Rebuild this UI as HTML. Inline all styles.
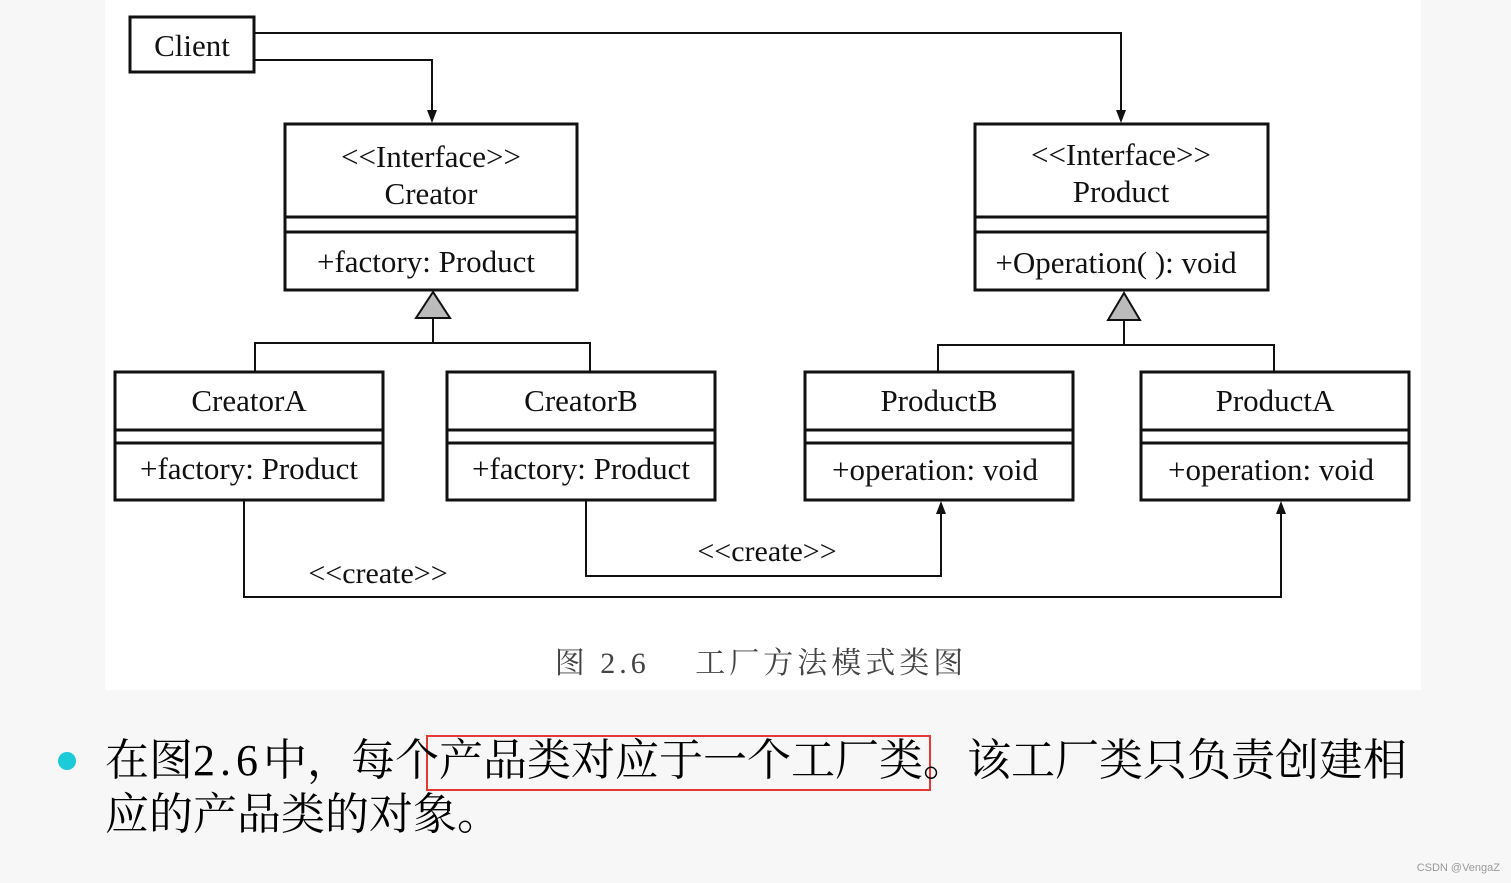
<!DOCTYPE html>
<html><head><meta charset="utf-8"><style>
html,body{margin:0;padding:0;width:1511px;height:883px;overflow:hidden;background:#f7f7f7;}
svg{position:absolute;left:0;top:0}
.t{font-family:"Liberation Serif",serif;font-size:31px;fill:#111;text-anchor:middle}
.cn{position:absolute;left:105px;font-family:"Liberation Serif","Noto Serif CJK SC",serif;font-size:44px;color:#000;white-space:nowrap;line-height:54px}
.n{letter-spacing:5px}
</style></head><body>
<svg width="1511" height="883" viewBox="0 0 1511 883">
<rect x="105" y="0" width="1316" height="690" fill="#fff"/>
<g stroke="#111" stroke-width="3" fill="none">
<rect x="130" y="17" width="124" height="55"/>
<rect x="285" y="124" width="292" height="166"/>
<line x1="285" y1="217" x2="577" y2="217"/><line x1="285" y1="232" x2="577" y2="232"/>
<rect x="975" y="124" width="293" height="166"/>
<line x1="975" y1="217" x2="1268" y2="217"/><line x1="975" y1="232" x2="1268" y2="232"/>
<rect x="115" y="372" width="268" height="128"/>
<line x1="115" y1="430" x2="383" y2="430"/><line x1="115" y1="443" x2="383" y2="443"/>
<rect x="447" y="372" width="268" height="128"/>
<line x1="447" y1="430" x2="715" y2="430"/><line x1="447" y1="443" x2="715" y2="443"/>
<rect x="805" y="372" width="268" height="128"/>
<line x1="805" y1="430" x2="1073" y2="430"/><line x1="805" y1="443" x2="1073" y2="443"/>
<rect x="1141" y="372" width="268" height="128"/>
<line x1="1141" y1="430" x2="1409" y2="430"/><line x1="1141" y1="443" x2="1409" y2="443"/>
</g>
<g stroke="#111" stroke-width="2" fill="none">
<polyline points="254,33 1121,33 1121,112"/>
<polyline points="254,60 432,60 432,112"/>
<polyline points="433,318 433,343"/><polyline points="255,372 255,343 590,343 590,372"/>
<polyline points="1124,320 1124,345"/><polyline points="938,372 938,345 1274,345 1274,372"/>
<polyline points="244,500 244,597 1281,597 1281,512"/>
<polyline points="586,500 586,576 941,576 941,512"/>
</g>
<g fill="#111">
<polygon points="427,110 437,110 432,123"/><polygon points="1116,110 1126,110 1121,123"/>
<polygon points="936,514 946,514 941,501"/><polygon points="1276,514 1286,514 1281,501"/>
</g>
<g fill="#bbb" stroke="#111" stroke-width="2">
<polygon points="433,292 416,318 450,318"/><polygon points="1124,293 1108,320 1140,320"/>
</g>
<text class="t" x="192" y="56">Client</text>
<text class="t" x="431" y="167">&lt;&lt;Interface&gt;&gt;</text>
<text class="t" x="431" y="204">Creator</text>
<text class="t" x="426" y="272">+factory: Product</text>
<text class="t" x="1121" y="165">&lt;&lt;Interface&gt;&gt;</text>
<text class="t" x="1121" y="202">Product</text>
<text class="t" x="1116" y="273">+Operation( ): void</text>
<text class="t" x="249" y="411">CreatorA</text>
<text class="t" x="249" y="479">+factory: Product</text>
<text class="t" x="581" y="411">CreatorB</text>
<text class="t" x="581" y="479">+factory: Product</text>
<text class="t" x="939" y="411">ProductB</text>
<text class="t" x="935" y="480">+operation: void</text>
<text class="t" x="1275" y="411">ProductA</text>
<text class="t" x="1271" y="480">+operation: void</text>
<text class="t" x="378" y="583" style="font-size:30px">&lt;&lt;create&gt;&gt;</text>
<text class="t" x="767" y="561" style="font-size:30px">&lt;&lt;create&gt;&gt;</text>
<text x="761" y="673" style="font-family:'Liberation Serif','Noto Serif CJK SC',serif;font-size:30px;fill:#444;text-anchor:middle;letter-spacing:4px">图 2.6　 工厂方法模式类图</text>
<circle cx="67" cy="761" r="9" fill="#1ccad8"/>
<rect x="427" y="736" width="503" height="54" fill="none" stroke="#e53935" stroke-width="2"/>
<text x="1500" y="871" style="font-family:'Liberation Sans',sans-serif;font-size:11px;fill:#999;text-anchor:end">CSDN @VengaZ</text>
</svg>
<div class="cn" style="top:734px">在图<span class="n">2.6</span>中，每个产品类对应于一个工厂类。该工厂类只负责创建相</div>
<div class="cn" style="top:788px">应的产品类的对象。</div>
</body></html>
